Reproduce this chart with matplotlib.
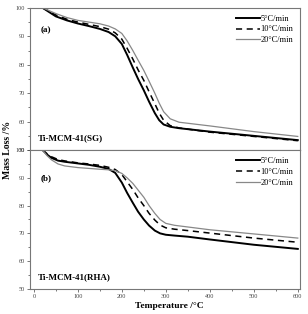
import matplotlib
matplotlib.use("Agg")
import matplotlib.pyplot as plt
from matplotlib.ticker import MultipleLocator

plt.rcParams['font.family'] = ['Liberation Serif', 'DejaVu Serif']

# (a) Ti-MCM-41(SG)
T_sg = [20, 35, 50, 75, 100, 125, 150, 170, 185, 200, 212, 225, 237, 250, 262,
        275, 285, 295, 310, 330, 400, 500, 600]
m_sg_5 = [100, 98.5, 97, 95.6, 94.5, 93.6, 92.6, 91.5, 90, 87.3, 83.5, 79, 75, 71, 67,
          63, 60.5, 59, 58.2, 57.7, 56.5, 55, 53.5]
m_sg_10 = [100, 98.8, 97.5, 96, 95, 94.2, 93.4, 92.5, 91.2, 89, 85.8, 82, 78.2, 74.5, 70.5,
           66.3, 63, 60.5, 58.6, 57.8, 56.3, 54.8, 53.3]
m_sg_20 = [100, 99, 98, 96.6, 95.6, 95, 94.4, 93.6, 92.6, 91, 88.4, 85, 81.6, 78, 74.2,
           70, 66.5, 63.5, 61, 59.8, 58.5, 56.5, 54.8]

# (b) Ti-MCM-41(RHA)
T_rha = [20, 30, 40, 55, 70, 100, 125, 150, 170, 185, 200, 212, 225, 237, 250, 262,
         275, 287, 300, 320, 350, 400, 500, 600]
m_rha_5 = [100, 98.4, 97.2, 96.2, 95.8, 95.2, 94.7, 94, 93.2, 91.8, 88.3, 84.6, 81, 77.8, 75, 72.8,
           71, 70, 69.5, 69.2, 68.8, 67.8, 65.9, 64.4]
m_rha_10 = [100, 98.7, 97.6, 96.6, 96.1, 95.4, 95, 94.5, 93.8, 93, 91.2, 88.6, 85.8, 82.8, 80, 77.2,
            74.8, 73, 72, 71.5, 71, 70.1, 68.3, 66.8]
m_rha_20 = [100, 98, 96.5, 95, 94.3, 93.7, 93.4, 93.1, 92.9, 92.6, 91.6, 90, 88, 85.6, 83, 80,
            77.2, 75, 73.6, 72.9, 72.3, 71.3, 69.8, 68.3]

rates = ["5°C/min", "10°C/min", "20°C/min"]
styles = [dict(color='black', lw=1.4, ls='-'),
          dict(color='black', lw=1.1, ls=(0, (4, 3))),
          dict(color='#888888', lw=0.9, ls='-')]

fig = plt.figure(figsize=(3.08, 3.14), dpi=100)
ax1 = fig.add_axes([0.097, 0.522, 0.877, 0.453])
ax2 = fig.add_axes([0.097, 0.080, 0.877, 0.442])

panels = [
    (ax1, T_sg, [m_sg_5, m_sg_10, m_sg_20], "(a)", "Ti-MCM-41(SG)", 0.83),
    (ax2, T_rha, [m_rha_5, m_rha_10, m_rha_20], "(b)", "Ti-MCM-41(RHA)", 0.78),
]

for ax, t, series, tag, name, ty in panels:
    for m, lab, st in zip(series, rates, styles):
        ax.plot(t, m, label=lab, **st)
    ax.set_xlim(-9, 605)
    ax.set_ylim(50, 100)
    ax.xaxis.set_major_locator(MultipleLocator(100))
    ax.xaxis.set_minor_locator(MultipleLocator(50))
    ax.yaxis.set_major_locator(MultipleLocator(10))
    ax.yaxis.set_minor_locator(MultipleLocator(5))
    ax.tick_params(which='both', direction='out', labelsize=4.5, colors='#444444',
                   width=0.5, pad=1)
    ax.tick_params(which='major', length=2.5)
    ax.tick_params(which='minor', length=1.5)
    for sp in ax.spines.values():
        sp.set_color('#777777')
        sp.set_linewidth(0.8)
    ax.text(0.04, ty, tag, transform=ax.transAxes, fontsize=6.5, fontweight='bold')
    ax.text(0.03, 0.07, name, transform=ax.transAxes, fontsize=6.5, fontweight='bold')
    ax.legend(loc='upper right', frameon=False, fontsize=6, handlelength=2.8,
              handletextpad=0.1, labelspacing=0.35, borderaxespad=0.4)

ax1.tick_params(axis='x', which='both', bottom=False, labelbottom=False)
fig.text(0.55, 0.026, "Temperature /°C", ha='center', va='center',
         fontsize=6.8, fontweight='bold')
fig.text(0.025, 0.522, "Mass Loss /%", rotation=90, ha='center', va='center',
         fontsize=7, fontweight='bold')

fig.savefig("out.png", dpi=100)
